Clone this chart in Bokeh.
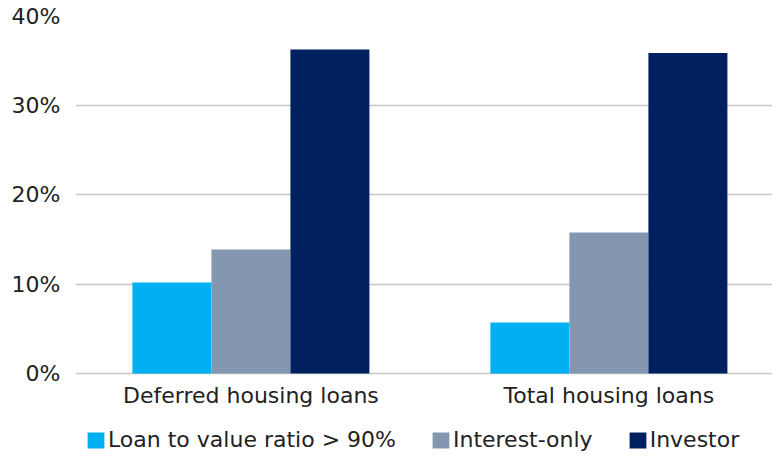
from bokeh.plotting import figure
from bokeh.models import (Range1d, Legend, LegendItem, ColumnDataSource,
                          FixedTicker, PrintfTickFormatter)
from bokeh.transform import dodge
from bokeh.embed import file_html
from bokeh.resources import INLINE

categories = ["Deferred housing loans", "Total housing loans"]
series_names = ["Loan to value ratio > 90%", "Interest-only", "Investor"]
ltv = [10.2, 5.7]
interest_only = [13.9, 15.8]
investor = [36.3, 35.9]
y_ticks = [0, 10, 20, 30, 40]
colors = ["#00B0F0", "#8497B0", "#002060"]

FONT = "DejaVu Sans"
TEXT = "#222222"

xpos = list(range(len(categories)))
src = ColumnDataSource(dict(x=xpos, ltv=ltv, io=interest_only, inv=investor))

# frame runs to the bottom of the canvas so the legend below the bars is not clipped;
# the category axis is pinned at y = 0
p = figure(frame_width=697, frame_height=436,
           x_range=Range1d(-0.49, 1.457), y_range=Range1d(-8.852, 40),
           output_backend="svg", toolbar_location=None,
           min_border_left=75, min_border_right=0, min_border_top=16, min_border_bottom=0)
p.outline_line_color = None
p.background_fill_color = "white"
p.border_fill_color = "white"

bw = 0.2207
fields = ["ltv", "io", "inv"]
offsets = [-bw, 0.0, bw]
renderers = []
for f, off, c in zip(fields, offsets, colors):
    r = p.vbar(x=dodge("x", off), top=f, width=bw, bottom=0,
               source=src, fill_color=c, line_color=None)
    renderers.append(r)

# axes
p.yaxis.ticker = FixedTicker(ticks=y_ticks)
p.yaxis.formatter = PrintfTickFormatter(format="%d%%")
p.yaxis.axis_line_color = None
p.yaxis.major_tick_line_color = None
p.yaxis.minor_tick_line_color = None
p.yaxis.major_tick_out = 0
p.yaxis.major_tick_in = 0
p.yaxis.major_label_standoff = 15
p.yaxis.major_label_text_font = FONT
p.yaxis.major_label_text_font_size = "22px"
p.yaxis.major_label_text_color = TEXT

p.xaxis.fixed_location = 0
p.xaxis.ticker = FixedTicker(ticks=xpos)
p.xaxis.major_label_overrides = {i: c for i, c in zip(xpos, categories)}
p.xaxis.axis_line_color = None
p.xaxis.major_tick_line_color = None
p.xaxis.minor_tick_line_color = None
p.xaxis.major_tick_out = 0
p.xaxis.major_tick_in = 0
p.xaxis.major_label_standoff = 10
p.xaxis.major_label_text_font = FONT
p.xaxis.major_label_text_font_size = "22px"
p.xaxis.major_label_text_color = TEXT

p.xgrid.grid_line_color = None
p.ygrid.grid_line_color = "#c6c6c6"
p.ygrid.grid_line_width = 1.5

legend = Legend(items=[LegendItem(label=n, renderers=[r]) for n, r in zip(series_names, renderers)],
                orientation="horizontal", location=(10, 0),
                glyph_width=21, glyph_height=20, label_standoff=2, spacing=34,
                padding=0, margin=0, border_line_color=None, background_fill_alpha=0,
                label_text_font=FONT, label_text_font_size="22px", label_text_color=TEXT)
p.add_layout(legend, "center")

open("out.html", "w").write(file_html(p, INLINE))
